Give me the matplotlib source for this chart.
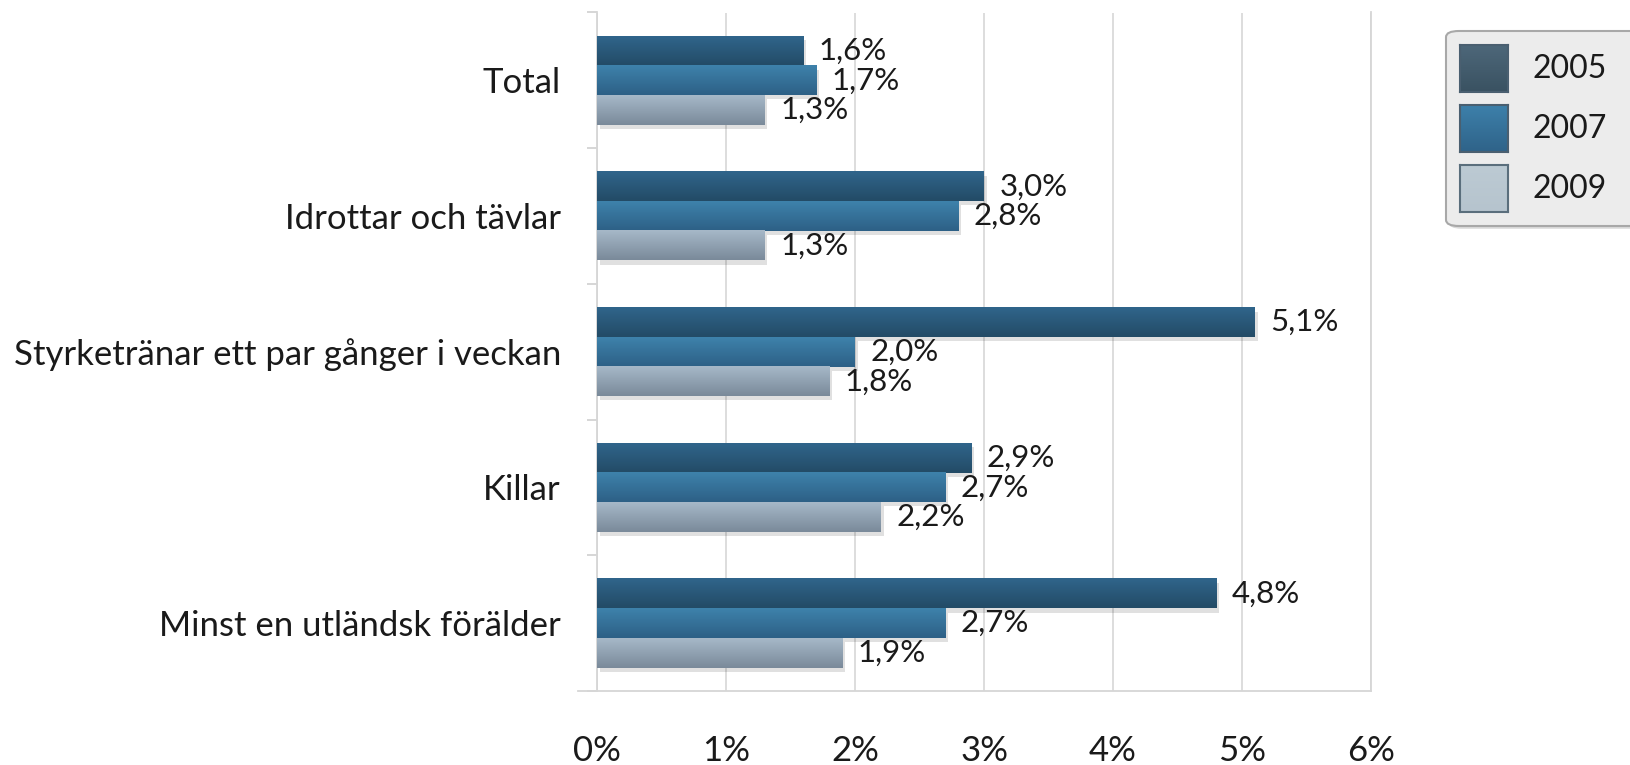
import numpy as np
import matplotlib
matplotlib.use("Agg")
import matplotlib.pyplot as plt
import matplotlib.patheffects as pe
from matplotlib.patches import FancyBboxPatch

plt.rcParams['font.family'] = ['Lato', 'DejaVu Sans']

categories = ["Total", "Idrottar och tävlar", "Styrketränar ett par gånger i veckan",
              "Killar", "Minst en utländsk förälder"]
series = ["2005", "2007", "2009"]
v2005 = [1.6, 3.0, 5.1, 2.9, 4.8]
v2007 = [1.7, 2.8, 2.0, 2.7, 2.7]
v2009 = [1.3, 1.3, 1.8, 2.2, 1.9]
xticks = [0, 1, 2, 3, 4, 5, 6]
xtick_labels = ["0%", "1%", "2%", "3%", "4%", "5%", "6%"]

values = [v2005, v2007, v2009]
grad = [("#30658b", "#234b66"), ("#3e82ab", "#2d6086"), ("#a6b8c8", "#7a8a9a")]
legend_cols = [("#4d6779", "#3a5262"), ("#3d80aa", "#2f6389"), ("#bccad3", "#b6c4ce")]

W, H = 1630, 765
fig = plt.figure(figsize=(W / 100, H / 100), dpi=100)
ax = fig.add_axes([597 / W, 1 - 691 / H, (1371 - 597) / W, (691 - 12.5) / H])

n = len(categories)
ypos = np.arange(n)[::-1].astype(float)  # Total at top
bh = 0.218
offsets = [bh, 0.0, -bh]
txtcol = "#1a1a1a"

for si, (vals, (ctop, cbot)) in enumerate(zip(values, grad)):
    yy = ypos + offsets[si]
    ax.barh(yy, vals, height=bh, color=cbot, zorder=2,
            path_effects=[pe.SimplePatchShadow(offset=(2, -3), shadow_rgbFace="#000000", alpha=0.12),
                          pe.Normal()])
    c1 = np.array(matplotlib.colors.to_rgb(ctop))
    c2 = np.array(matplotlib.colors.to_rgb(cbot))
    t = np.linspace(0, 1, 50)[:, None]
    g = (c1 * (1 - t) + c2 * t)[:, None, :]
    for y, v in zip(yy, vals):
        ax.imshow(g, extent=(0, v, y - bh / 2, y + bh / 2), aspect="auto",
                  origin="upper", zorder=3, interpolation="bilinear")
        ax.annotate(f"{v:.1f}%".replace(".", ","), xy=(v, y), xytext=(11, 0),
                    textcoords="offset points", va="center", ha="left",
                    fontsize=22.5, color=txtcol, zorder=4)

ax.set_xlim(0, 6)
ax.set_ylim(-0.5, n - 0.5)
ax.set_xticks(xticks)
ax.set_xticklabels(xtick_labels, fontsize=25, color=txtcol)
ax.set_yticks(ypos)
ax.set_yticklabels(categories, fontsize=25, color=txtcol)
ax.set_yticks(np.arange(n + 1) - 0.5, minor=True)
ax.tick_params(axis="y", which="major", length=0, pad=26)
ax.tick_params(axis="y", which="minor", length=7, width=1.2, color="#d0d0d0")
ax.tick_params(axis="x", length=0, pad=32)
ax.grid(axis="x", color="#dadada", lw=1.3, zorder=0)
ax.set_axisbelow(True)
ax.spines["top"].set_visible(False)
for s in ["left", "right", "bottom"]:
    ax.spines[s].set_color("#d6d6d6")
    ax.spines[s].set_linewidth(1.3)
ax.plot([-0.15, 0], [-0.5, -0.5], color="#d6d6d6", lw=1.3, clip_on=False)


def fx(x):
    return x / W


def fy(y):
    return 1 - y / H


box = FancyBboxPatch((fx(1446), fy(226)), fx(1700) - fx(1446), fy(31) - fy(226),
                     boxstyle="round,pad=0,rounding_size=0.008",
                     transform=fig.transFigure, facecolor="#ececec",
                     edgecolor="#a8a8a8", lw=1.5, zorder=1,
                     path_effects=[pe.SimplePatchShadow(offset=(2, -2), alpha=0.2), pe.Normal()])
fig.add_artist(box)
tops = [45, 105, 165]
for i, name in enumerate(series):
    y0 = tops[i]
    c1 = np.array(matplotlib.colors.to_rgb(legend_cols[i][0]))
    c2 = np.array(matplotlib.colors.to_rgb(legend_cols[i][1]))
    lax = fig.add_axes([fx(1460), fy(y0 + 47), fx(48), 47 / H], zorder=5)
    t = np.linspace(0, 1, 30)[:, None]
    g = (c1 * (1 - t) + c2 * t)[:, None, :]
    lax.imshow(g, aspect="auto", extent=(0, 1, 0, 1), origin="upper")
    lax.set_xticks([])
    lax.set_yticks([])
    for s in lax.spines.values():
        s.set_color("#5a6e7c" if i == 2 else "#4a5f70")
        s.set_linewidth(1.5)
    fig.text(fx(1532), fy(y0 + 24), name, fontsize=23,
             va="center", ha="left", color=txtcol, zorder=6)

fig.savefig("out.png", dpi=100)
